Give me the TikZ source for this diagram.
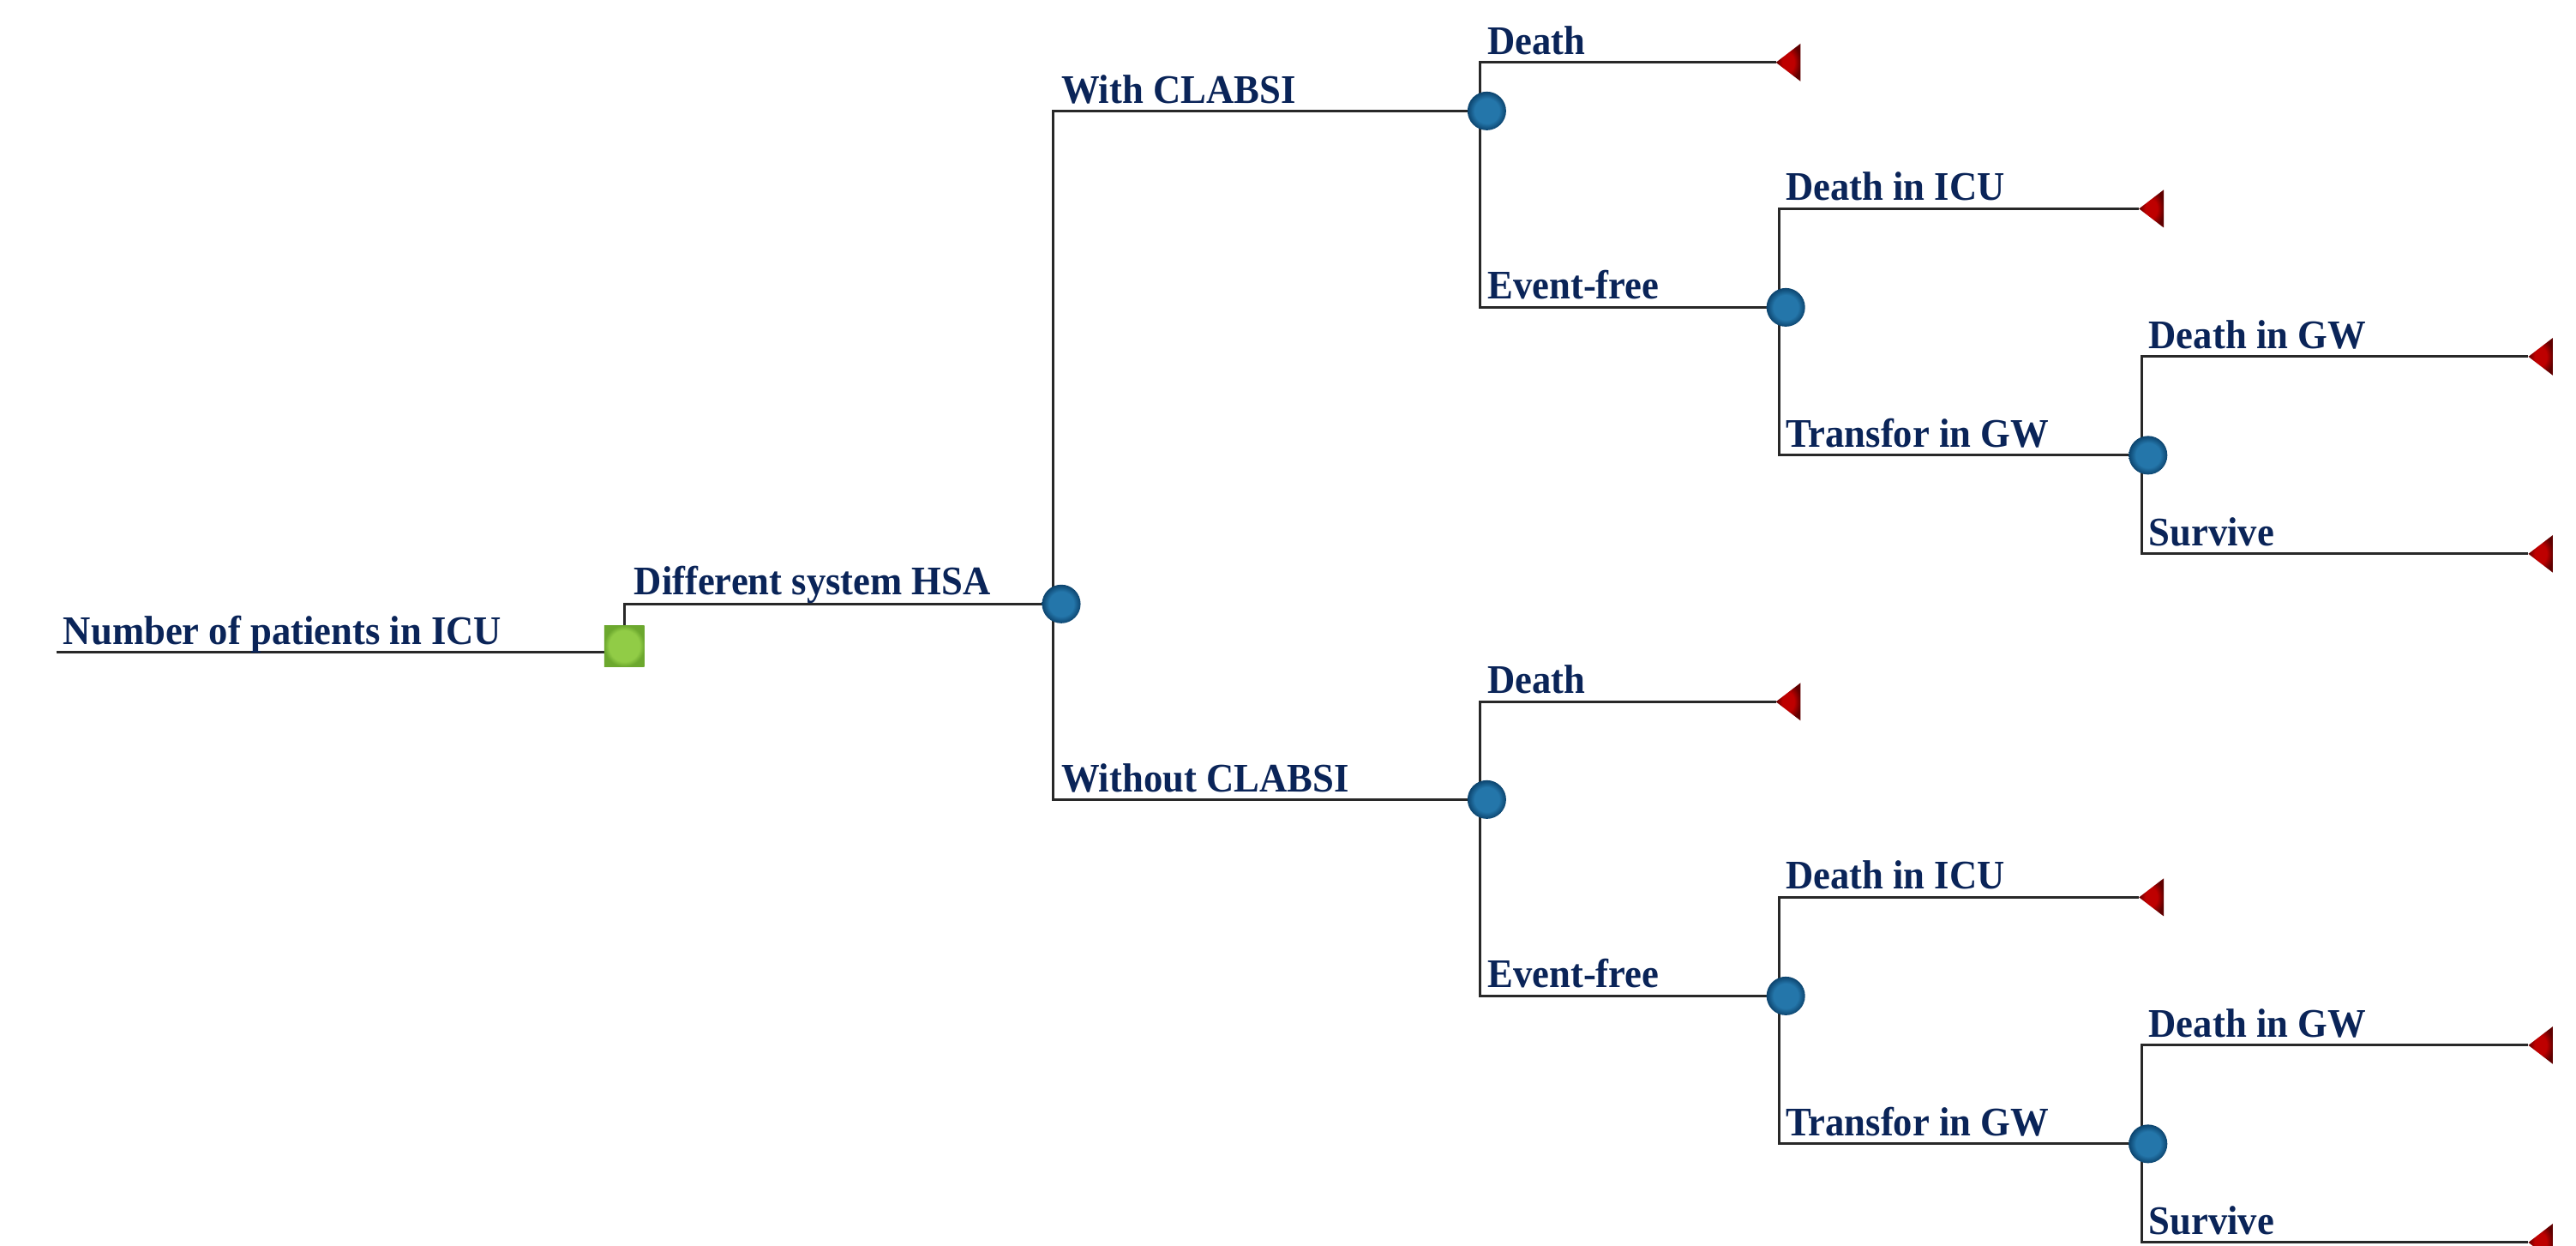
\documentclass[tikz,border=0pt]{standalone}
\usepackage{fontspec}
\setmainfont{Liberation Serif}
\usetikzlibrary{shapes.geometric}
\definecolor{txt}{RGB}{10,36,88}
\definecolor{ln}{RGB}{40,40,40}
\definecolor{cin}{RGB}{36,118,170}
\definecolor{cout}{RGB}{12,68,110}
\definecolor{tin}{RGB}{190,0,0}
\definecolor{tout}{RGB}{95,0,0}
\definecolor{gin}{RGB}{145,204,70}
\definecolor{gout}{RGB}{108,168,46}
\pgfdeclareradialshading{chanceshade}{\pgfpoint{0bp}{0bp}}{color(0bp)=(cin); color(16bp)=(cin); color(25bp)=(cout); color(50bp)=(cout)}
\pgfdeclareradialshading{termshade}{\pgfpoint{0bp}{0bp}}{color(0bp)=(tin); color(12bp)=(tin); color(25bp)=(tout); color(50bp)=(tout)}
\pgfdeclareradialshading{decshade}{\pgfpoint{0bp}{0bp}}{color(0bp)=(gin); color(19bp)=(gin); color(25bp)=(gout); color(50bp)=(gout)}
\pgfdeclarelayer{bg}
\pgfsetlayers{bg,main}
\tikzset{
  chance/.style={circle, minimum size=23.5pt, inner sep=0pt, outer sep=0pt, shading=chanceshade},
  decision/.style={rectangle, minimum width=24.5pt, minimum height=25pt, inner sep=0pt, outer sep=0pt, shading=decshade},
  terminal/.style={isosceles triangle, isosceles triangle stretches, shape border rotate=180,
     minimum width=23pt, minimum height=15pt, inner sep=0pt, outer sep=0pt, shading=termshade, anchor=apex},
  lbl/.style={anchor=base west, inner sep=0pt, outer sep=0pt, text=txt,
     font=\fontsize{23.3}{27}\selectfont\bfseries},
  branch/.style={draw=ln, line width=1.5pt}
}
\newcommand{\tlab}[1]{\scalebox{1}[1.06]{#1}}
\begin{document}
\begin{tikzpicture}[x=1pt,y=-1pt]
\clip (0,0) rectangle (1568,758);
% nodes
\node[decision] (sq) at (380,393) {};
\node[chance] (A) at (646,367.5) {};
\node[chance] (B) at (905,67.5) {};
\node[chance] (C) at (905,486.5) {};
\node[chance] (D) at (1087,187) {};
\node[chance] (E) at (1307.5,277) {};
\node[chance] (F) at (1087,606) {};
\node[chance] (G) at (1307.5,696) {};
\node[terminal] (tB) at (1081,38) {};
\node[terminal] (tD) at (1302,127) {};
\node[terminal] (tE1) at (1539,217) {};
\node[terminal] (tE2) at (1539,337) {};
\node[terminal] (tC) at (1081,427) {};
\node[terminal] (tF) at (1302,546) {};
\node[terminal] (tG1) at (1539,636) {};
\node[terminal] (tG2) at (1539,756) {};
\coordinate (r0) at (34.3,397);
% labels
\node[lbl] (l0) at (38.6,392) {\tlab{Number of patients in ICU}};
\node[lbl] (l1) at (386,362) {\tlab{Different system HSA}};
\node[lbl] (l2) at (646,63) {\tlab{With CLABSI}};
\node[lbl] (l3) at (646,482) {\tlab{Without CLABSI}};
\node[lbl] (l4) at (905.5,33) {\tlab{Death}};
\node[lbl] (l5) at (905.5,182) {\tlab{Event-free}};
\node[lbl] (l6) at (905.5,422) {\tlab{Death}};
\node[lbl] (l7) at (905.5,601) {\tlab{Event-free}};
\node[lbl] (l8) at (1087,122) {\tlab{Death in ICU}};
\node[lbl] (l9) at (1087,272) {\tlab{Transfor in GW}};
\node[lbl] (l10) at (1087,541) {\tlab{Death in ICU}};
\node[lbl] (l11) at (1087,691) {\tlab{Transfor in GW}};
\node[lbl] (l12) at (1308,212) {\tlab{Death in GW}};
\node[lbl] (l13) at (1308,332) {\tlab{Survive}};
\node[lbl] (l14) at (1308,631) {\tlab{Death in GW}};
\node[lbl] (l15) at (1308,751) {\tlab{Survive}};
% connectors
\begin{pgfonlayer}{bg}
\draw[branch] (r0) -- (sq.west |- r0);
\draw[branch] (sq.north) |- (A.west);
\draw[branch] ([xshift=-5pt]A.center) |- (B.west);
\draw[branch] ([xshift=-5pt]A.center) |- (C.west);
\draw[branch] ([xshift=-4pt]B.center) |- (tB.apex);
\draw[branch] ([xshift=-4pt]B.center) |- (D.west);
\draw[branch] ([xshift=-4pt]D.center) |- (tD.apex);
\draw[branch] ([xshift=-4pt]D.center) |- (E.west);
\draw[branch] ([xshift=-4pt]E.center) |- (tE1.apex);
\draw[branch] ([xshift=-4pt]E.center) |- (tE2.apex);
\draw[branch] ([xshift=-4pt]C.center) |- (tC.apex);
\draw[branch] ([xshift=-4pt]C.center) |- (F.west);
\draw[branch] ([xshift=-4pt]F.center) |- (tF.apex);
\draw[branch] ([xshift=-4pt]F.center) |- (G.west);
\draw[branch] ([xshift=-4pt]G.center) |- (tG1.apex);
\draw[branch] ([xshift=-4pt]G.center) |- (tG2.apex);
\end{pgfonlayer}
\end{tikzpicture}
\end{document}
